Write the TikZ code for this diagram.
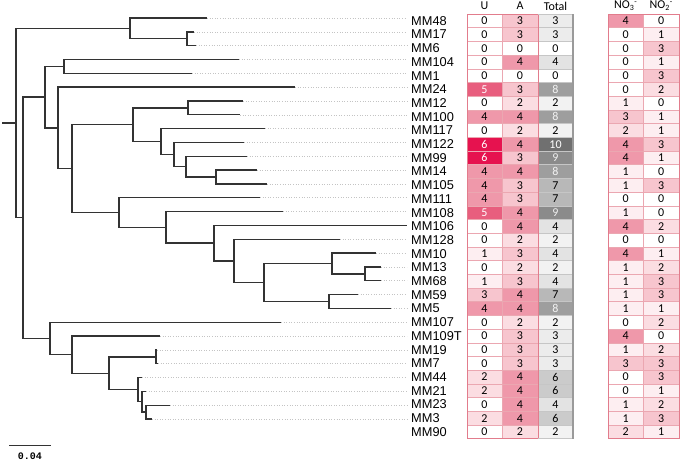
\documentclass[tikz,border=0pt]{standalone}
\usepackage{fontspec}
\setmainfont{Liberation Sans}
\newfontfamily\cellfont{Carlito}
\newfontfamily\barfont{Liberation Mono}
\definecolor{treegray}{HTML}{333333}
\definecolor{guidegray}{HTML}{C4C4C4}
\definecolor{pinkline}{HTML}{EBA7B1}
\definecolor{pinkouter}{HTML}{E27C8C}
\definecolor{grayline}{HTML}{C6C6C6}
\definecolor{grayouter}{HTML}{9A9A9A}
% pink scale
\definecolor{p0}{HTML}{FFFFFF}
\definecolor{p1}{HTML}{FDEEF1}
\definecolor{p2}{HTML}{FBDDE2}
\definecolor{p3}{HTML}{F7C5CE}
\definecolor{p4}{HTML}{EF98AA}
\definecolor{p5}{HTML}{E85E7E}
\definecolor{p6}{HTML}{E6124F}
\colorlet{tp0}{black}\colorlet{tp1}{black}\colorlet{tp2}{black}
\colorlet{tp3}{black}\colorlet{tp4}{black}
\colorlet{tp5}{white}\colorlet{tp6}{white}
% grey scale
\definecolor{g0}{HTML}{FFFFFF}
\definecolor{g1}{HTML}{F7F7F7}
\definecolor{g2}{HTML}{F2F2F2}
\definecolor{g3}{HTML}{ECECEC}
\definecolor{g4}{HTML}{E3E3E3}
\definecolor{g5}{HTML}{D8D8D8}
\definecolor{g6}{HTML}{CBCBCB}
\definecolor{g7}{HTML}{B8B8B8}
\definecolor{g8}{HTML}{9E9E9E}
\definecolor{g9}{HTML}{8B8B8B}
\definecolor{g10}{HTML}{707070}
\colorlet{tg0}{black}\colorlet{tg1}{black}\colorlet{tg2}{black}
\colorlet{tg3}{black}\colorlet{tg4}{black}\colorlet{tg5}{black}
\colorlet{tg6}{black}\colorlet{tg7}{black}
\definecolor{tg8}{HTML}{F2F2F2}\definecolor{tg9}{HTML}{EEEEEE}\definecolor{tg10}{HTML}{FFFFFF}
\begin{document}
\begin{tikzpicture}[x=1pt,y=-1pt,
  branch/.style={draw=treegray, line width=1.35pt},
  guide/.style={draw=guidegray, line width=0.6pt, dotted},
  leaflabel/.style={anchor=west, inner sep=0pt, font=\fontsize{12.8}{13}\selectfont},
  cellbox/.style={draw=pinkline, line width=0.5pt, inner sep=0pt,
    minimum height=13.7pt, font=\cellfont\fontsize{12}{12}\selectfont},
  graybox/.style={cellbox, draw=grayline},
  head/.style={inner sep=0pt, font=\cellfont\fontsize{12}{12}\selectfont}
]
\useasboundingbox (0,0) rectangle (680,461);

% ---------------- tree ----------------
\begin{scope}[yshift=-18pt, y=-13.83pt]
  % leaf tips
  \foreach \tx [count=\k from 0] in {207,194,196,239,192,295,243,240,265,244,247,257,267,260,283,407,340,376,381,381,358,391,281,160,157,158,142,146,170,152}
    \coordinate (t\k) at (\tx,\k);
  \coordinate (rs) at (2,7.598877);
  \coordinate (r) at (16,7.598877);
  \coordinate (a1) at (130,0.75);
  \coordinate (a2) at (187,1.5);
  \coordinate (b) at (23,14.447754);
  \coordinate (b1) at (45,5.723633);
  \coordinate (b11) at (64,3.5);
  \coordinate (b12) at (58,7.947266);
  \coordinate (b121) at (72,10.894531);
  \coordinate (b1211) at (133,7.71875);
  \coordinate (b12111) at (188,6.5);
  \coordinate (b12112) at (161,8.9375);
  \coordinate (c174) at (174,9.875);
  \coordinate (c186) at (186,10.75);
  \coordinate (c216) at (216,11.5);
  \coordinate (b1212) at (119,14.070313);
  \coordinate (c166) at (166,15.140625);
  \coordinate (c214) at (214,16.28125);
  \coordinate (c234) at (234,17.5625);
  \coordinate (c264) at (264,19.125);
  \coordinate (c332) at (332,17.75);
  \coordinate (c365) at (365,18.5);
  \coordinate (c329) at (329,20.5);
  \coordinate (b2) at (50,23.171875);
  \coordinate (d72) at (72,24.34375);
  \coordinate (d109) at (109,25.6875);
  \coordinate (d156) at (156,24.5);
  \coordinate (d138) at (138,26.875);
  \coordinate (d142) at (142,27.75);
  \coordinate (d146) at (146,28.5);
  % dotted guides to the labels
  \foreach \k in {0,...,29}
    \draw[guide] (t\k) -- (407,\k);
  % branches
  \draw[branch] (rs) -- (r);
  \foreach \p/\c in {r/a1,r/b,a1/t0,a1/a2,a2/t1,a2/t2,b/b1,b/b2,b1/b11,b1/b12,
      b11/t3,b11/t4,b12/t5,b12/b121,b121/b1211,b121/b1212,b1211/b12111,b1211/b12112,
      b12111/t6,b12111/t7,b12112/t8,b12112/c174,c174/t9,c174/c186,c186/t10,c186/c216,
      c216/t11,c216/t12,b1212/t13,b1212/c166,c166/t14,c166/c214,c214/t15,c214/c234,
      c234/t16,c234/c264,c264/c332,c264/c329,c332/t17,c332/c365,c365/t18,c365/t19,
      c329/t20,c329/t21,b2/t22,b2/d72,d72/t23,d72/d109,d109/d156,d109/d138,
      d156/t24,d156/t25,d138/t26,d138/d142,d142/t27,d142/d146,d146/t28,d146/t29}
    \draw[branch] (\p) |- (\c);
\end{scope}

% ---------------- labels and table ----------------
\foreach \nm/\vu/\va/\vt/\vn/\vm [count=\i from 0] in {
  MM48/0/3/3/4/0, MM17/0/3/3/0/1, MM6/0/0/0/0/3, MM104/0/4/4/0/1,
  MM1/0/0/0/0/3, MM24/5/3/8/0/2, MM12/0/2/2/1/0, MM100/4/4/8/3/1,
  MM117/0/2/2/2/1, MM122/6/4/10/4/3, MM99/6/3/9/4/1, MM14/4/4/8/1/0,
  MM105/4/3/7/1/3, MM111/4/3/7/0/0, MM108/5/4/9/1/0, MM106/0/4/4/4/2,
  MM128/0/2/2/0/0, MM10/1/3/4/4/1, MM13/0/2/2/1/2, MM68/1/3/4/1/3,
  MM59/3/4/7/1/3, MM5/4/4/8/1/1, MM107/0/2/2/0/2, MM109T/0/3/3/4/0,
  MM19/0/3/3/1/2, MM7/0/3/3/3/3, MM44/2/4/6/0/3, MM21/2/4/6/0/1,
  MM23/0/4/4/1/2, MM3/2/4/6/1/3, MM90/0/2/2/2/1}
{
  \pgfmathsetmacro{\ry}{20.85+13.7*\i}
  \node[leaflabel] (lab\i) at (411,\ry) {\nm};
  \node[cellbox, minimum width=35pt, fill=p\vu, text=tp\vu] (u\i) at (484.5,\ry) {\vu};
  \node[cellbox, minimum width=36pt, fill=p\va, text=tp\va] (a\i) at (520,\ry) {\va};
  \node[graybox, minimum width=35pt, fill=g\vt, text=tg\vt] (tot\i) at (555.5,\ry) {\vt};
  \node[cellbox, minimum width=35.5pt, fill=p\vn, text=tp\vn] (no3\i) at (625.75,\ry) {\vn};
  \node[cellbox, minimum width=35.5pt, fill=p\vm, text=tp\vm] (no2\i) at (661.25,\ry) {\vm};
}
% outer frames
\draw[pinkouter, line width=0.7pt] (467,14) rectangle (538,438.7);
\draw[grayline, line width=0.7pt] (538,14) -- (573,14);
\draw[grayline, line width=0.7pt] (538,438.7) -- (573,438.7);
\draw[grayouter, line width=1.1pt] (573,14) -- (573,438.7);
\draw[pinkouter, line width=0.7pt] (608,14) rectangle (679,438.7);

% headers
\node[head] (hu) at (484.5,6) {U};
\node[head] (ha) at (520,6) {A};
\node[head] (ht) at (555.5,6) {Total};
\node[head] (hno3) at (625.75,6) {NO\textsubscript{3}\textsuperscript{-}};
\node[head] (hno2) at (661.25,6) {NO\textsubscript{2}\textsuperscript{-}};

% scale bar
\coordinate (sb1) at (9,445);
\coordinate (sb2) at (51,445);
\draw[treegray, line width=1pt] (sb1) -- (sb2);
\node[inner sep=0pt, font=\barfont\bfseries\fontsize{10}{10}\selectfont] (sbl) at (30,456) {0.04};
\end{tikzpicture}
\end{document}
